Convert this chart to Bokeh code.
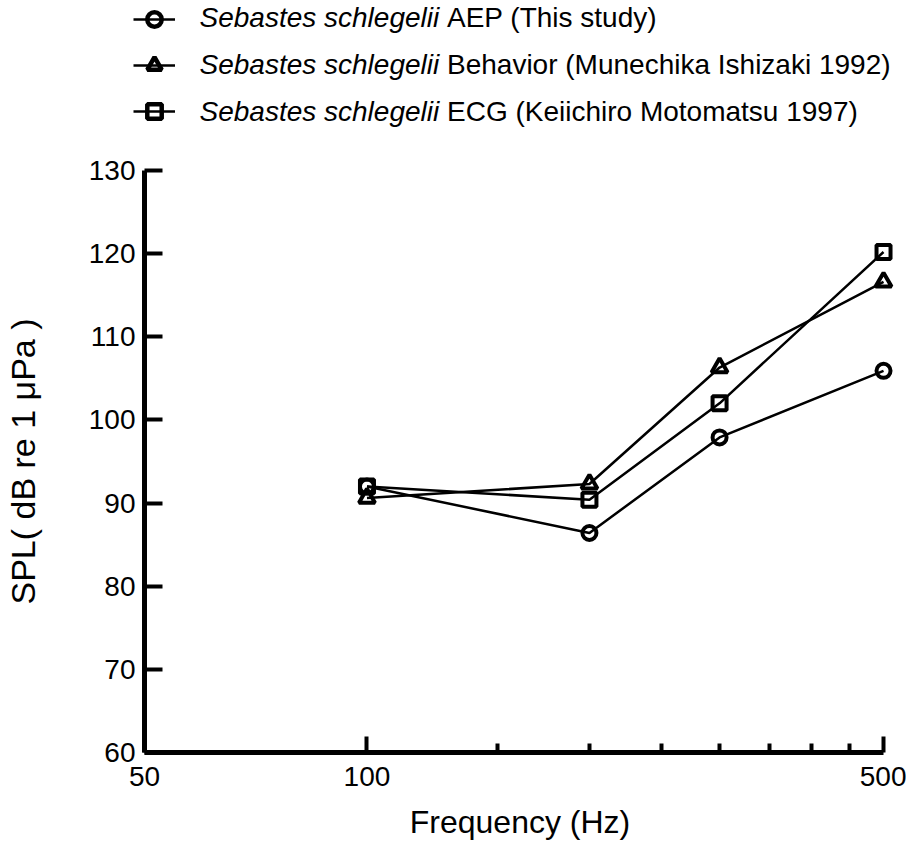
from bokeh.plotting import figure
from bokeh.models import FixedTicker, Legend, LegendItem, Label, Range1d
from bokeh.embed import file_html
from bokeh.resources import INLINE

# ---- data ----
freq = [100, 200, 300, 500]
aep = [92.0, 86.4, 97.9, 105.9]
behavior = [90.6, 92.3, 106.3, 116.6]
ecg = [92.0, 90.4, 102.0, 120.2]
series = [aep, behavior, ecg]

series_italic = "Sebastes schlegelii"
series_rest = ["AEP (This study)",
               "Behavior (Munechika Ishizaki  1992)",
               "ECG (Keiichiro Motomatsu 1997)"]
markers = ["circle", "triangle", "square"]
marker_sizes = [14, 16, 14]
x_ticks = [50, 100, 500]
x_tick_labels = ["50", "100", "500"]
x_minor = [150, 200, 250, 300, 350, 400, 450]
y_ticks = [60, 70, 80, 90, 100, 110, 120, 130]
x_axis_span = (50, 500)

FONT = "Liberation Sans"
LEG_W = 898
LEG_H = 134

# ---------------- legend strip (own root) ----------------
lg = figure(width=LEG_W, height=LEG_H, x_range=Range1d(0, LEG_W), y_range=Range1d(LEG_H, 0),
            output_backend="svg", toolbar_location=None,
            x_axis_location=None, y_axis_location=None,
            min_border=0, min_border_left=0, min_border_right=0,
            min_border_top=0, min_border_bottom=0)
lg.outline_line_color = None
lg.xgrid.visible = False
lg.ygrid.visible = False
# series drawn on a hidden range: only their legend samples are seen here
lg.extra_x_ranges = {"hide": Range1d(10000, 20000)}
lg.extra_y_ranges = {"hide": Range1d(10000, 20000)}

items = []
for ys, m in zip(series, markers):
    ln = lg.line(freq, ys, line_color="black", line_width=2.5,
                 x_range_name="hide", y_range_name="hide")
    sc = lg.scatter(freq, ys, marker=m, line_color="black", line_width=4.5,
                    fill_alpha=0, x_range_name="hide", y_range_name="hide")
    items.append(LegendItem(label=" ", renderers=[ln, sc]))
legend = Legend(items=items, location=(133, 5),
                glyph_width=42, glyph_height=36, label_height=36,
                spacing=10, padding=0, margin=0,
                label_text_font_size="1px", label_standoff=0,
                background_fill_alpha=0, border_line_color=None)
lg.add_layout(legend, "center")

row_base = [16.7, 64, 110.7]
italic_w = 239.7
for yb, rest in zip(row_base, series_rest):
    lg.add_layout(Label(x=199, y=yb, text=series_italic, text_font=FONT,
                        text_font_size="28px", text_font_style="italic",
                        text_baseline="alphabetic", text_color="black"))
    lg.add_layout(Label(x=199 + italic_w + 7.8, y=yb, text=rest, text_font=FONT,
                        text_font_size="28px", text_baseline="alphabetic",
                        text_color="black"))

# ---------------- main plot ----------------
W = 906
LEFT, FRAME_W = 140, 755          # frame a little wider than the axis so end markers are not clipped
TOP, FRAME_H, BOTTOM = 170 - LEG_H, 582, 93
p = figure(width=W, height=TOP + FRAME_H + BOTTOM, x_axis_type="log",
           x_range=Range1d(50, 519), y_range=Range1d(60, 130),
           output_backend="svg", toolbar_location=None,
           min_border_left=LEFT, min_border_right=W - LEFT - FRAME_W,
           min_border_top=TOP, min_border_bottom=BOTTOM)
p.outline_line_color = None
p.xgrid.visible = False
p.ygrid.visible = False

for ys, marker, msize in zip(series, markers, marker_sizes):
    p.line(freq, ys, line_color="black", line_width=2.5)
    p.scatter(freq, ys, marker=marker, size=msize, line_color="black",
              line_width=4, fill_alpha=0)

for ax in (p.xaxis[0], p.yaxis[0]):
    ax.axis_line_width = 5
    ax.axis_line_color = "black"
    ax.major_tick_line_width = 4
    ax.minor_tick_line_width = 4
    ax.major_tick_out = 0
    ax.minor_tick_out = 0
    ax.major_label_text_font = FONT
    ax.major_label_text_font_size = "28px"
    ax.major_label_text_color = "black"
    ax.axis_label_text_font = FONT
    ax.axis_label_text_font_style = "normal"
    ax.axis_label_text_color = "black"

xa = p.xaxis[0]
xa.bounds = x_axis_span
xa.ticker = FixedTicker(ticks=x_ticks, minor_ticks=x_minor)
xa.major_label_overrides = {t: l for t, l in zip(x_ticks, x_tick_labels)}
xa.major_tick_in = 16
xa.minor_tick_in = 9
xa.major_label_standoff = 14
xa.axis_label = "Frequency (Hz)"
xa.axis_label_text_font_size = "32px"
xa.axis_label_standoff = 15

ya = p.yaxis[0]
ya.ticker = FixedTicker(ticks=y_ticks, minor_ticks=[])
ya.major_tick_in = 18
ya.minor_tick_in = 0
ya.major_label_standoff = 9
ya.axis_label = "SPL( dB re 1 μPa )"
ya.axis_label_text_font_size = "34px"
ya.axis_label_standoff = 44

open("out.html", "w").write(file_html([lg, p], INLINE))
